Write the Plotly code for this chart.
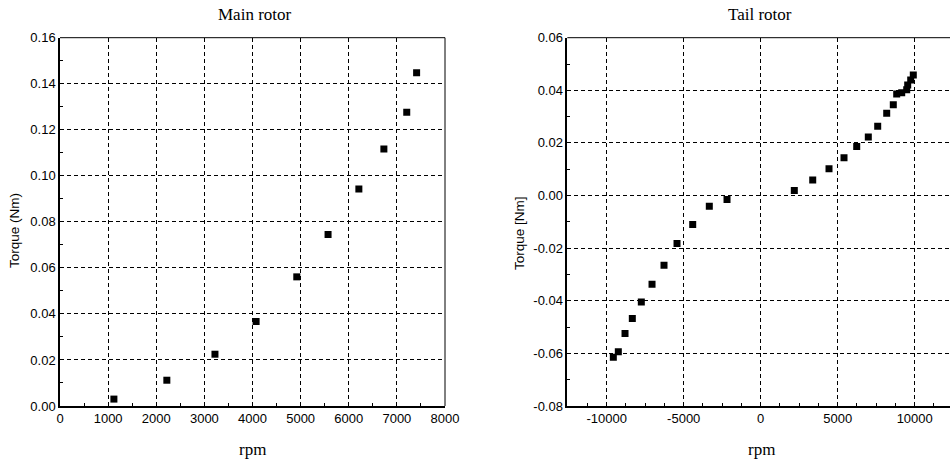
import plotly.graph_objects as go

# ---- data ----
main_rpm = [1120, 2220, 3220, 4075, 4920, 5570, 6210, 6730, 7205, 7410]
main_torque = [0.0030, 0.0112, 0.0225, 0.0367, 0.0561, 0.0745, 0.0943, 0.1116, 0.1276, 0.1448]

tail_rpm = [-9571, -9247, -8812, -8338, -7753, -7058, -6280, -5435, -4416, -3338, -2188,
            2182, 3377, 4435, 5409, 6234, 6987, 7597, 8182, 8610, 8831, 9156, 9481, 9545, 9740, 9909]
tail_torque = [-0.0615, -0.0594, -0.0524, -0.0467, -0.0405, -0.0337, -0.0265, -0.0182, -0.0110, -0.0041, -0.0015,
               0.0019, 0.0059, 0.0102, 0.0144, 0.0186, 0.0223, 0.0263, 0.0313, 0.0345, 0.0386, 0.0391, 0.0402, 0.0420, 0.0439, 0.0458]

main_x_ticks = [0, 1000, 2000, 3000, 4000, 5000, 6000, 7000, 8000]
main_y_ticks = [0.00, 0.02, 0.04, 0.06, 0.08, 0.10, 0.12, 0.14, 0.16]
tail_x_ticks = [-10000, -5000, 0, 5000, 10000]
tail_y_ticks = [-0.08, -0.06, -0.04, -0.02, 0.00, 0.02, 0.04, 0.06]

W, H = 950, 463


def PX(p):
    return p / W


def PY(p):
    return 1 - p / H


TICKFONT = dict(family="Liberation Sans", size=13, color="black")
SERIF = "Liberation Serif"

fig = go.Figure()
mk = dict(symbol="square", size=7, color="black")
fig.add_trace(go.Scatter(x=main_rpm, y=main_torque, mode="markers", marker=mk,
                         xaxis="x", yaxis="y", showlegend=False))
fig.add_trace(go.Scatter(x=tail_rpm, y=tail_torque, mode="markers", marker=mk,
                         xaxis="x2", yaxis="y2", showlegend=False))

ydom = [PY(406), PY(37.7)]
x1dom = [PX(60), PX(445)]
x2dom = [PX(567.3), 1.0]

common = dict(showgrid=True, gridcolor="black", gridwidth=1, griddash="4px,3px",
              showline=True, linecolor="black", linewidth=1.5, mirror=False,
              zeroline=False, ticks="inside", ticklen=4, tickcolor="black",
              tickfont=TICKFONT, automargin=False,
              minor=dict(ticks="inside", ticklen=3, tickcolor="black", showgrid=False))


def lab(v, fmt):
    return [fmt.format(t) for t in v]


fig.update_layout(
    width=W, height=H,
    margin=dict(l=0, r=0, t=0, b=0),
    paper_bgcolor="white", plot_bgcolor="white",
    xaxis=dict(domain=x1dom, range=[0, 8000], tickvals=main_x_ticks,
               ticktext=lab(main_x_ticks, "{:d}"), anchor="y", **common),
    yaxis=dict(domain=ydom, range=[0, 0.16], tickvals=main_y_ticks,
               ticktext=lab(main_y_ticks, "{:.2f}"), anchor="x", **common),
    xaxis2=dict(domain=x2dom, range=[-12560, 12292], tickvals=tail_x_ticks,
                ticktext=lab(tail_x_ticks, "{:d}"), anchor="y2", **common),
    yaxis2=dict(domain=ydom, range=[-0.08, 0.06], tickvals=tail_y_ticks,
                ticktext=lab(tail_y_ticks, "{:.2f}"), anchor="x2", **common),
)
fig.update_layout(xaxis=dict(minor=dict(dtick=500)), xaxis2=dict(minor=dict(dtick=1250)),
                  yaxis=dict(minor=dict(dtick=0.01)), yaxis2=dict(minor=dict(dtick=0.01)))

# borders top/right
fig.add_shape(type="line", xref="x domain", yref="y domain", x0=0, x1=1, y0=1, y1=1,
              line=dict(color="black", width=1))
fig.add_shape(type="line", xref="x domain", yref="y domain", x0=1, x1=1, y0=0, y1=1,
              line=dict(color="black", width=1))
fig.add_shape(type="line", xref="x2 domain", yref="y2 domain", x0=0, x1=1, y0=1, y1=1,
              line=dict(color="black", width=1))

ann = dict(xref="paper", yref="paper", showarrow=False, xanchor="center", yanchor="middle")
fig.add_annotation(text="Main rotor", x=PX(255), y=PY(15),
                   font=dict(family=SERIF, size=17, color="black"), **ann)
fig.add_annotation(text="Tail rotor", x=PX(760), y=PY(15),
                   font=dict(family=SERIF, size=17, color="black"), **ann)
fig.add_annotation(text="rpm", x=PX(252), y=PY(449),
                   font=dict(family=SERIF, size=17, color="black"), **ann)
fig.add_annotation(text="rpm", x=PX(761), y=PY(449),
                   font=dict(family=SERIF, size=17, color="black"), **ann)
fig.add_annotation(text="Torque (Nm)", x=PX(15), y=PY(231), textangle=-90,
                   font=dict(family="Liberation Sans", size=13.5, color="black"), **ann)
fig.add_annotation(text="Torque [Nm]", x=PX(520), y=PY(233), textangle=-90,
                   font=dict(family="Liberation Sans", size=13.5, color="black"), **ann)

fig.write_html("out.html", config={"displayModeBar": False},
               post_script="document.body.style.margin='0px';document.body.style.overflow='hidden';")
